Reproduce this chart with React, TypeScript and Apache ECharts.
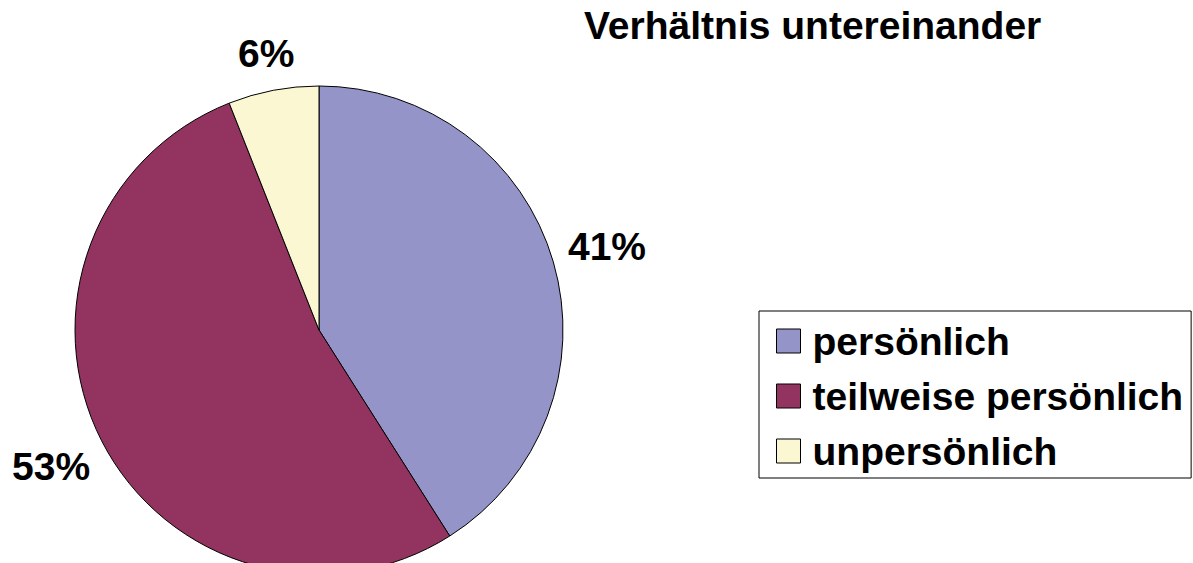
import React, { useEffect, useRef } from "react";
import * as echarts from "echarts";

const categories = ["persönlich", "teilweise persönlich", "unpersönlich"];
const values = [41, 53, 6];
const colors = ["#9494C8", "#933460", "#FAF7D2"];
const titleText = "Verhältnis untereinander";

const CX = 319;
const CY = 330;
const R = 244;
const LABEL_GAP = 13;

export default function App() {
  const ref = useRef<HTMLDivElement>(null);
  useEffect(() => {
    if (!ref.current) return;
    const chart = echarts.init(ref.current, null, { renderer: "svg" });
    const font = "'Liberation Sans', Arial, sans-serif";
    const total = values.reduce((a, b) => a + b, 0);
    const midAngles: number[] = [];
    let acc = 0;
    values.forEach((v) => {
      midAngles.push(((acc + v / 2) / total) * Math.PI * 2);
      acc += v;
    });
    chart.setOption({
      animation: false,
      backgroundColor: "#ffffff",
      title: {
        text: titleText,
        left: 579,
        top: 1,
        textStyle: { fontFamily: font, fontWeight: "bold", fontSize: 39, color: "#000" },
      },
      legend: {
        orient: "vertical",
        left: 759,
        top: 311,
        padding: [10, 8, 7, 17],
        itemGap: 15,
        itemWidth: 24,
        itemHeight: 24,
        icon: "rect",
        borderColor: "#000",
        borderWidth: 1,
        itemStyle: { borderColor: "#000", borderWidth: 1 },
        textStyle: {
          fontFamily: font,
          fontWeight: "bold",
          fontSize: 39,
          lineHeight: 40,
          color: "#000",
          padding: [0, 0, 0, 7],
        },
        data: categories,
      },
      series: [
        {
          type: "pie",
          center: [CX, CY],
          radius: R,
          startAngle: 90,
          clockwise: true,
          data: categories.map((c, i) => ({
            name: c,
            value: values[i],
            itemStyle: { color: colors[i] },
          })),
          itemStyle: { borderColor: "#000", borderWidth: 1 },
          label: {
            show: true,
            position: "outside",
            formatter: "{d}%",
            fontFamily: font,
            fontWeight: "bold",
            fontSize: 39,
            color: "#000",
            overflow: "none",
            width: 120,
            align: "center",
          },
          labelLine: { show: false },
          labelLayout: (params: any) => {
            const a = midAngles[params.dataIndex];
            const ux = Math.sin(a);
            const uy = -Math.cos(a);
            const w = params.labelRect.width;
            const h = params.labelRect.height;
            const ext = Math.abs(ux) * w / 2 + Math.abs(uy) * h / 2;
            const d = R + LABEL_GAP + ext;
            return {
              x: CX + ux * d,
              y: CY + uy * d,
              align: "center",
              verticalAlign: "middle",
            };
          },
          emphasis: { disabled: true },
        },
      ],
    });
    return () => chart.dispose();
  }, []);
  return (
    <div
      ref={ref}
      style={{ position: "fixed", left: 0, top: 0, width: 1193, height: 563 }}
    />
  );
}
